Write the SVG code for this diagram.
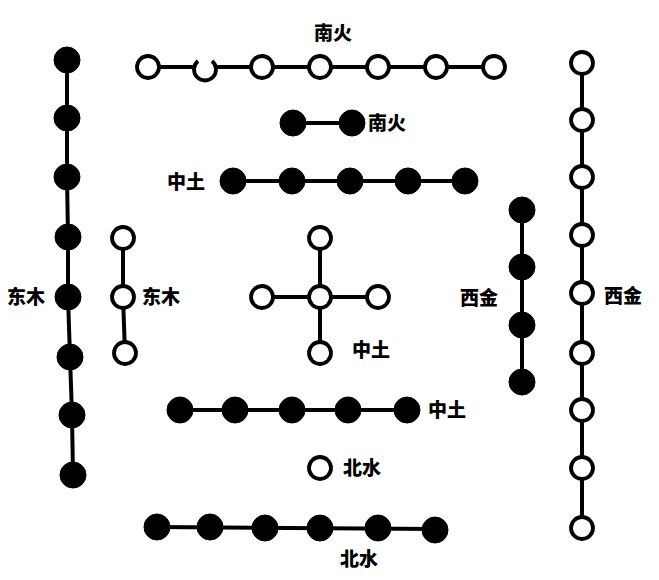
<svg xmlns="http://www.w3.org/2000/svg" width="659" height="580" viewBox="0 0 659 580">
<style>
.ln{stroke:#000;stroke-width:4;fill:none;stroke-linecap:round}
.o{fill:#fff;stroke:#000;stroke-width:3.8}
.f{fill:#000;stroke:#000;stroke-width:1}
.t{font-family:"Noto Sans CJK SC","Noto Sans",sans-serif;font-weight:900;font-size:19px;fill:#000}
</style>
<rect width="659" height="580" fill="#fff"/>
<g id="connectors">
<polyline class="ln" points="148,67 494,67"/>
<polyline class="ln" points="293,123 352,123"/>
<polyline class="ln" points="233,181 465,181"/>
<polyline class="ln" points="67,60 67,177 68,237 68,297 70,357 72,415 73,475"/>
<polyline class="ln" points="123,238 123,297 125,353"/>
<polyline class="ln" points="320,238 320,353"/>
<polyline class="ln" points="262,297 378,297"/>
<polyline class="ln" points="180,410 407,410"/>
<polyline class="ln" points="157,527 435,529"/>
<polyline class="ln" points="522,210 522,382"/>
<polyline class="ln" points="582,63 582,528"/>
</g>
<g id="south-outer">
<circle class="o" cx="148" cy="67" r="11"/>
<path class="o" d="M198,61 A11,11 0 1 0 212,61"/>
<circle class="o" cx="262" cy="67" r="11"/>
<circle class="o" cx="320" cy="67" r="11"/>
<circle class="o" cx="378" cy="67" r="11"/>
<circle class="o" cx="436" cy="67" r="11"/>
<circle class="o" cx="494" cy="67" r="11"/>
</g>
<g id="south-inner">
<circle class="f" cx="293" cy="123" r="13"/>
<circle class="f" cx="352" cy="123" r="13"/>
</g>
<g id="center-top">
<circle class="f" cx="233" cy="181" r="13"/>
<circle class="f" cx="292" cy="181" r="13"/>
<circle class="f" cx="350" cy="181" r="13"/>
<circle class="f" cx="408" cy="181" r="13"/>
<circle class="f" cx="465" cy="181" r="13"/>
</g>
<g id="east-outer">
<circle class="f" cx="67" cy="60" r="13"/>
<circle class="f" cx="67" cy="118" r="13"/>
<circle class="f" cx="67" cy="177" r="13"/>
<circle class="f" cx="68" cy="237" r="13"/>
<circle class="f" cx="68" cy="297" r="13"/>
<circle class="f" cx="70" cy="357" r="13"/>
<circle class="f" cx="72" cy="415" r="13"/>
<circle class="f" cx="73" cy="475" r="13"/>
</g>
<g id="east-inner">
<circle class="o" cx="123" cy="238" r="11"/>
<circle class="o" cx="123" cy="297" r="11"/>
<circle class="o" cx="125" cy="353" r="11"/>
</g>
<g id="center-cross">
<circle class="o" cx="320" cy="238" r="11"/>
<circle class="o" cx="262" cy="297" r="11"/>
<circle class="o" cx="320" cy="297" r="11"/>
<circle class="o" cx="378" cy="297" r="11"/>
<circle class="o" cx="320" cy="353" r="11"/>
</g>
<g id="center-bottom">
<circle class="f" cx="180" cy="410" r="13"/>
<circle class="f" cx="235" cy="410" r="13"/>
<circle class="f" cx="292" cy="410" r="13"/>
<circle class="f" cx="348" cy="410" r="13"/>
<circle class="f" cx="407" cy="410" r="13"/>
</g>
<g id="north-inner">
<circle class="o" cx="320" cy="468" r="11"/>
</g>
<g id="north-outer">
<circle class="f" cx="157" cy="527" r="13"/>
<circle class="f" cx="210" cy="527" r="13"/>
<circle class="f" cx="265" cy="528" r="13"/>
<circle class="f" cx="320" cy="528" r="13"/>
<circle class="f" cx="378" cy="528" r="13"/>
<circle class="f" cx="435" cy="530" r="13"/>
</g>
<g id="west-inner">
<circle class="f" cx="522" cy="210" r="13"/>
<circle class="f" cx="522" cy="267" r="13"/>
<circle class="f" cx="522" cy="325" r="13"/>
<circle class="f" cx="522" cy="382" r="13"/>
</g>
<g id="west-outer">
<circle class="o" cx="582" cy="63" r="11"/>
<circle class="o" cx="582" cy="120" r="11"/>
<circle class="o" cx="582" cy="177" r="11"/>
<circle class="o" cx="582" cy="235" r="11"/>
<circle class="o" cx="582" cy="293" r="11"/>
<circle class="o" cx="582" cy="353" r="11"/>
<circle class="o" cx="582" cy="410" r="11"/>
<circle class="o" cx="582" cy="468" r="11"/>
<circle class="o" cx="582" cy="528" r="11"/>
</g>
<g id="labels">
<text class="t" x="314" y="40">南火</text>
<text class="t" x="368" y="130">南火</text>
<text class="t" x="167" y="189">中土</text>
<text class="t" x="7" y="304">东木</text>
<text class="t" x="142" y="304">东木</text>
<text class="t" x="352" y="357">中土</text>
<text class="t" x="428" y="417">中土</text>
<text class="t" x="343" y="475">北水</text>
<text class="t" x="340" y="566">北水</text>
<text class="t" x="460" y="305">西金</text>
<text class="t" x="604" y="303">西金</text>
</g>
</svg>
